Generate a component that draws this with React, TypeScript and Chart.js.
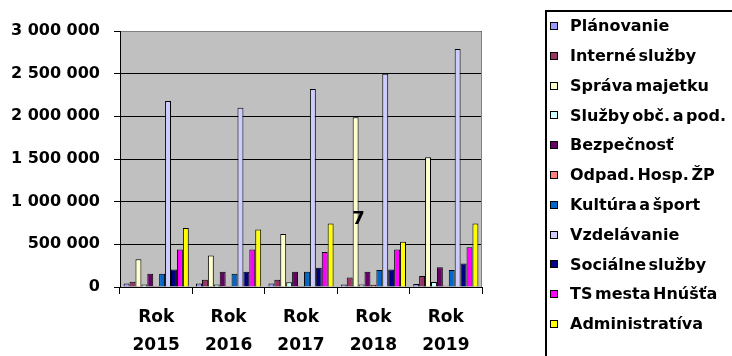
import React, { useEffect, useRef } from "react";
import { Chart, registerables } from "chart.js";

Chart.register(...registerables);

const categories: string[][] = [
  ["Rok", "2015"],
  ["Rok", "2016"],
  ["Rok", "2017"],
  ["Rok", "2018"],
  ["Rok", "2019"],
];

const seriesNames = [
  "Plánovanie",
  "Interné služby",
  "Správa majetku",
  "Služby obč. a pod.",
  "Bezpečnosť",
  "Odpad. Hosp. ŽP",
  "Kultúra a šport",
  "Vzdelávanie",
  "Sociálne služby",
  "TS mesta Hnúšťa",
  "Administratíva",
];

const seriesColors = [
  "#9999FF",
  "#993366",
  "#FFFFCC",
  "#CCFFFF",
  "#660066",
  "#FF8080",
  "#0066CC",
  "#CCCCFF",
  "#000080",
  "#FF00FF",
  "#FFFF00",
];

const planovanie = [42000, 40000, 40000, 28000, 35000];
const interneSluzby = [62000, 85000, 85000, 110000, 130000];
const spravaMajetku = [325000, 370000, 620000, 1990000, 1520000];
const sluzbyObc = [30000, 30000, 55000, 30000, 60000];
const bezpecnost = [155000, 180000, 180000, 180000, 230000];
const odpadHosp = [12000, 12000, 12000, 25000, 15000];
const kulturaSport = [155000, 155000, 180000, 200000, 200000];
const vzdelavanie = [2180000, 2100000, 2320000, 2500000, 2790000];
const socialneSluzby = [205000, 180000, 225000, 205000, 275000];
const tsMesta = [440000, 440000, 410000, 440000, 465000];
const administrativa = [690000, 675000, 745000, 530000, 745000];

const seriesValues = [
  planovanie,
  interneSluzby,
  spravaMajetku,
  sluzbyObc,
  bezpecnost,
  odpadHosp,
  kulturaSport,
  vzdelavanie,
  socialneSluzby,
  tsMesta,
  administrativa,
];

const yTicksMax = 3000000;
const yTicksStep = 500000;

// stray text label seen in the chart
const noteText = "7";
const noteCategoryIndex = 3;
const noteSeriesIndex = 2;
const noteValue = 790000;

const FONT = "'DejaVu Sans', sans-serif";

const fmt = (v: number) =>
  String(Math.round(v)).replace(/\B(?=(\d{3})+(?!\d))/g, " ");

export default function App() {
  const ref = useRef<HTMLCanvasElement | null>(null);

  useEffect(() => {
    document.body.style.margin = "0";
    const canvas = ref.current;
    if (!canvas) return;

    const plotPlugin = {
      id: "plotBg",
      beforeDraw(chart: any) {
        const { ctx, chartArea: a } = chart;
        ctx.save();
        ctx.fillStyle = "#C0C0C0";
        ctx.fillRect(a.left, a.top, a.right - a.left, a.bottom - a.top);
        ctx.restore();
      },
      afterDraw(chart: any) {
        const { ctx, chartArea: a } = chart;
        ctx.save();
        ctx.strokeStyle = "#808080";
        ctx.lineWidth = 1;
        ctx.beginPath();
        ctx.moveTo(a.left + 1, a.top + 0.5);
        ctx.lineTo(a.right - 0.5, a.top + 0.5);
        ctx.lineTo(a.right - 0.5, a.bottom);
        ctx.stroke();
        ctx.restore();
      },
    };

    const notePlugin = {
      id: "note",
      afterDatasetsDraw(chart: any) {
        const meta = chart.getDatasetMeta(noteSeriesIndex);
        const el = meta.data[noteCategoryIndex];
        if (!el) return;
        const y = chart.scales.y.getPixelForValue(noteValue);
        const ctx = chart.ctx;
        ctx.save();
        ctx.fillStyle = "#000";
        ctx.font = `bold 18px ${FONT}`;
        ctx.textAlign = "center";
        ctx.textBaseline = "middle";
        ctx.fillText(noteText, el.x + 3, y);
        ctx.restore();
      },
    };

    const legendPlugin = {
      id: "customLegend",
      afterDraw(chart: any) {
        const ctx = chart.ctx;
        ctx.save();
        ctx.strokeStyle = "#000";
        ctx.lineWidth = 2;
        ctx.strokeRect(546, 11, 200, 360);
        ctx.font = `bold 16px ${FONT}`;
        try {
          (ctx as any).wordSpacing = "-3px";
        } catch (e) {}
        ctx.textBaseline = "middle";
        ctx.textAlign = "left";
        seriesNames.forEach((name, i) => {
          const cy = 26 + i * 29.8;
          ctx.fillStyle = seriesColors[i];
          ctx.fillRect(550.5, Math.round(cy) - 3.5, 7, 7);
          ctx.strokeStyle = "#000";
          ctx.lineWidth = 1;
          ctx.strokeRect(550.5, Math.round(cy) - 3.5, 7, 7);
          ctx.fillStyle = "#000";
          ctx.fillText(name, 570, cy + 1);
        });
        ctx.restore();
      },
    };

    const chart = new Chart(canvas, {
      type: "bar",
      data: {
        labels: categories,
        datasets: seriesNames.map((name, i) => ({
          label: name,
          data: seriesValues[i],
          backgroundColor: seriesColors[i],
          borderColor: "#000",
          borderWidth: 1,
          categoryPercentage: 0.9,
          barPercentage: 1.0,
        })),
      },
      options: {
        responsive: false,
        animation: false,
        devicePixelRatio: 1,
        layout: { padding: { left: 0, right: 250, top: 31, bottom: 0 } },
        plugins: {
          legend: { display: false },
          tooltip: { enabled: false },
        },
        scales: {
          x: {
            offset: true,
            grid: {
              display: true,
              offset: true,
              drawOnChartArea: false,
              drawTicks: true,
              tickLength: 7,
              color: "#000",
            },
            border: { color: "#000", width: 1 },
            ticks: {
              color: "#000",
              maxRotation: 0,
              autoSkip: false,
              padding: 10,
              font: { family: FONT, size: 17, weight: "bold", lineHeight: 28 / 17 },
            },
            afterFit: (s: any) => {
              s.height = 69;
            },
          },
          y: {
            min: 0,
            max: yTicksMax,
            ticks: {
              stepSize: yTicksStep,
              color: "#000",
              padding: 14,
              font: { family: FONT, size: 16, weight: "bold" },
              callback: (v: any) => fmt(Number(v)),
            },
            grid: { color: "#000", tickLength: 6, drawTicks: true },
            border: { color: "#000", width: 1 },
            afterFit: (s: any) => {
              s.width = 120;
            },
          },
        },
      } as any,
      plugins: [plotPlugin, notePlugin, legendPlugin],
    });

    return () => chart.destroy();
  }, []);

  return (
    <canvas
      ref={ref}
      width={732}
      height={356}
      style={{ display: "block", width: 732, height: 356 }}
    />
  );
}
